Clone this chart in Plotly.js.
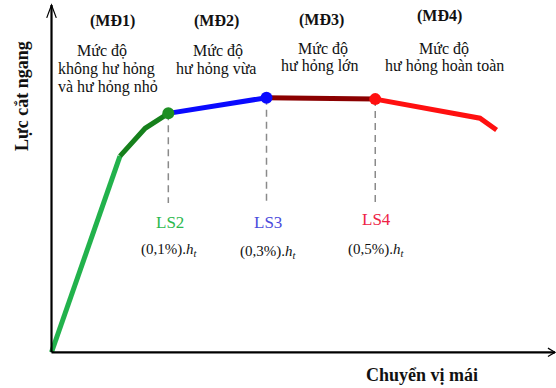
<!DOCTYPE html>
<html>
<head>
<meta charset="utf-8">
<script src="https://cdn.plot.ly/plotly-3.0.1.min.js"></script>
<style>html,body{margin:0;padding:0;background:#fff;}#chart{width:556px;height:388px;}</style>
</head>
<body>
<div id="chart"></div>
<script>
// ---- Data (arbitrary units: displacement 0..100, force 0..100) ----
const roofDisp   = [0, 13.6, 18.6, 23.2, 42.7, 64.3, 85.1, 88.4];
const shearForce = [0, 56.5, 64.5, 68.8, 73.3, 72.9, 67.4, 64.0];

// segments of the curve: [start index, end index, colour]
const segStart  = [0, 1, 3, 4, 5];
const segEnd    = [1, 3, 4, 5, 7];
const segColors = ['#22b24c', '#16801c', '#0a0aff', '#8b0000', '#ff1010'];

// limit states
const lsIndex   = [3, 4, 5];
const lsNames   = ['LS2', 'LS3', 'LS4'];
const lsColors  = ['#2db84d', '#4b4bdc', '#ee2244'];
const lsMarkerColors = ['#1e8f24', '#0a0aff', '#ff1010'];
const lsDrift   = ['0,1%', '0,3%', '0,5%'];
const dashBottom = 43;

// damage zones
const zoneCodes = ['(MĐ1)', '(MĐ2)', '(MĐ3)', '(MĐ4)'];
const zoneLines = [
  ['Mức độ', 'không hư hỏng', 'và hư hỏng nhỏ'],
  ['Mức độ', 'hư hỏng vừa'],
  ['Mức độ', 'hư hỏng lớn'],
  ['Mức độ', 'hư hỏng hoàn toàn']
];
const yTitle = 'Lực cắt ngang';
const xTitle = 'Chuyển vị mái';

// ---- Layout constants (pixels) ----
const W = 556, H = 388;
const FONT = '"Liberation Serif", serif';
const zoneCodePos = [[112.5, 20.5], [216, 20.5], [321, 19.5], [439, 16]];
const zoneLinePos = [
  [[102, 50.5], [106, 68.5], [108, 86.5]],
  [[218, 50.5], [216, 68.5]],
  [[323, 48.5], [319.5, 66]],
  [[444, 48.5], [444, 66]]
];
const px = (x) => x / W;
const py = (y) => 1 - y / H;
const C = {xanchor: 'center', yanchor: 'middle', showarrow: false};

const traces = [];
// dashed verticals
lsIndex.forEach((i) => {
  traces.push({
    x: [roofDisp[i], roofDisp[i]], y: [shearForce[i], dashBottom],
    mode: 'lines', line: {color: '#8a8a8a', width: 1.5, dash: '7px,5px'},
    hoverinfo: 'skip', showlegend: false
  });
});
// curve segments
segStart.forEach((s, k) => {
  traces.push({
    x: roofDisp.slice(s, segEnd[k] + 1), y: shearForce.slice(s, segEnd[k] + 1),
    mode: 'lines', line: {color: segColors[k], width: 5},
    hoverinfo: 'skip', showlegend: false
  });
});
// limit-state markers
traces.push({
  x: lsIndex.map(i => roofDisp[i]), y: lsIndex.map(i => shearForce[i]),
  mode: 'markers', marker: {size: 12, color: lsMarkerColors},
  hoverinfo: 'skip', showlegend: false
});

const annotations = [];
// LS labels
lsIndex.forEach((i, k) => {
  annotations.push(Object.assign({
    x: roofDisp[i] + 0.3, y: k === 2 ? 38.1 : 37.5, xref: 'x', yref: 'y',
    text: lsNames[k],
    font: {family: FONT, size: 17, color: lsColors[k]}
  }, C));
  annotations.push(Object.assign({
    x: roofDisp[i] + 0.3, y: k === 1 ? 28.9 : 29.5, xref: 'x', yref: 'y',
    text: '(' + lsDrift[k] + ').<i>h</i><sub><i>t</i></sub>',
    font: {family: FONT, size: 15, color: '#111'}
  }, C));
});
// zone headers and descriptions
zoneCodes.forEach((c, k) => {
  annotations.push(Object.assign({
    x: px(zoneCodePos[k][0]), y: py(zoneCodePos[k][1]), xref: 'paper', yref: 'paper',
    text: '<b>' + c + '</b>',
    font: {family: FONT, size: 16, color: '#111'}
  }, C));
  zoneLines[k].forEach((t, j) => {
    annotations.push(Object.assign({
      x: px(zoneLinePos[k][j][0]), y: py(zoneLinePos[k][j][1]), xref: 'paper', yref: 'paper',
      text: t,
      font: {family: FONT, size: 16, color: '#111'}
    }, C));
  });
});
// axis titles
annotations.push(Object.assign({
  x: px(22), y: py(96), xref: 'paper', yref: 'paper', text: '<b>' + yTitle + '</b>',
  textangle: -90, font: {family: FONT, size: 18, color: '#111'}
}, C));
annotations.push(Object.assign({
  x: px(422), y: py(375), xref: 'paper', yref: 'paper', text: '<b>' + xTitle + '</b>',
  font: {family: FONT, size: 18, color: '#111'}
}, C));

// axes with open arrowheads
const shapes = [
  {type: 'line', xref: 'x', yref: 'y', x0: 0, y0: 0, x1: 0, y1: 100, line: {color: '#000', width: 2.2}},
  {type: 'line', xref: 'x', yref: 'y', x0: 0, y0: 0, x1: 100, y1: 0, line: {color: '#000', width: 2.2}},
  {type: 'path', xref: 'x', yref: 'y', path: 'M -0.95,96.3 L 0,100 L 0.95,96.3', line: {color: '#000', width: 1.2}},
  {type: 'path', xref: 'x', yref: 'y', path: 'M 98.6,1.2 L 100,0 L 98.6,-1.2', line: {color: '#000', width: 1.2}}
];

const layout = {
  width: W, height: H,
  margin: {l: 0, r: 0, t: 0, b: 0, pad: 0},
  paper_bgcolor: '#fff', plot_bgcolor: '#fff',
  xaxis: {range: [-10.23, 100.2], visible: false, fixedrange: true},
  yaxis: {range: [-10.28, 101.44], visible: false, fixedrange: true},
  showlegend: false,
  shapes: shapes,
  annotations: annotations
};

Plotly.newPlot('chart', traces, layout, {displayModeBar: false, staticPlot: true});
</script>
</body>
</html>
